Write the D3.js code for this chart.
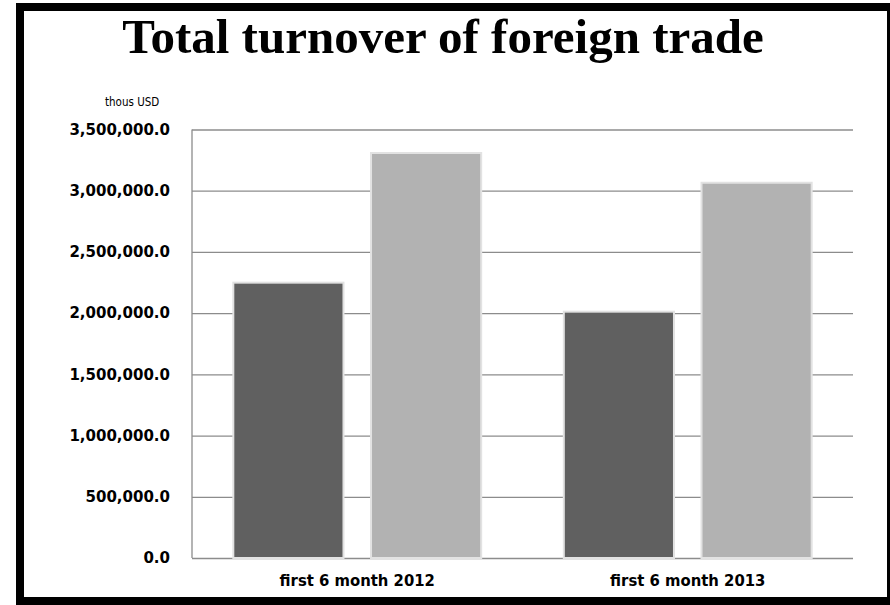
<!DOCTYPE html>
<html>
<head>
<meta charset="utf-8">
<script src="https://cdn.jsdelivr.net/npm/d3@7"></script>
<title>Total turnover of foreign trade</title>
<style>
body {
	margin: 0;
	background: white;
}
.title {
	font-family: "Liberation Serif", "Times New Roman", serif;
	font-weight: bold;
	font-size: 49px;
}
.unit {
	font-family: "DejaVu Sans Condensed", "DejaVu Sans", sans-serif;
	font-size: 11.5px;
	fill: #000;
}
#yaxis text {
	font-family: "DejaVu Sans", sans-serif;
	font-weight: bold;
	font-size: 15px;
	fill: #000;
}
#xaxis text {
	font-family: "DejaVu Sans Condensed", "DejaVu Sans", sans-serif;
	font-weight: bold;
	font-size: 16.5px;
	fill: #000;
}
</style>
</head>
<body>
<div id="chart"></div>
<script>

// -- data

var categories = ["first 6 month 2012", "first 6 month 2013"];
var series = ["s1", "s2"];
var s1Values = [2249000, 2012000];
var s2Values = [3308000, 3065000];
var yTicks = [0, 500000, 1000000, 1500000, 2000000, 2500000, 3000000, 3500000];

var colors = {s1: "#606060", s2: "#b2b2b2"};

// -- layout

var W = 890, H = 605;
var plot = {left: 192, right: 853, top: 129.5, bottom: 558};

var svg = d3.select("#chart")
	.append("svg")
		.attr("width", W)
		.attr("height", H);

// frame
svg.append("rect")
	.attr("x", 16).attr("y", 3)
	.attr("width", W - 16).attr("height", H - 3)
	.attr("fill", "#000");
svg.append("rect")
	.attr("x", 24).attr("y", 11)
	.attr("width", 863).attr("height", 586)
	.attr("fill", "#fff");

// title
svg.append("text")
	.attr("class", "title")
	.attr("x", 443)
	.attr("y", 53)
	.attr("text-anchor", "middle")
	.text("Total turnover of foreign trade");

svg.append("text")
	.attr("class", "unit")
	.attr("x", 105)
	.attr("y", 106)
	.text("thous USD");

// scales
var y = d3.scaleLinear()
	.domain([0, 3500000])
	.range([plot.bottom, plot.top]);

var x0 = d3.scaleBand()
	.domain(categories)
	.range([plot.left, plot.right])
	.paddingInner(0.25)
	.paddingOuter(0.125);

var x1 = d3.scaleBand()
	.domain(series)
	.range([0, x0.bandwidth()])
	.paddingInner(0.2);

// y axis + grid
var yAxis = svg.append("g")
	.attr("id", "yaxis")
	.attr("transform", "translate(" + plot.left + ",0)")
	.call(d3.axisLeft(y)
		.tickValues(yTicks)
		.tickSize(-(plot.right - plot.left))
		.tickPadding(22)
		.tickFormat(d3.format(",.1f")));
yAxis.select(".domain").remove();
yAxis.selectAll(".tick line")
	.attr("stroke", "#8c8c8c")
	.attr("stroke-width", 1.3);

svg.append("line")
	.attr("x1", plot.left).attr("x2", plot.left)
	.attr("y1", plot.top).attr("y2", plot.bottom)
	.attr("stroke", "#8c8c8c")
	.attr("stroke-width", 1.3);

// bars
var data = categories.map(function(c, i) {
	return {cat: c, values: [
		{key: "s1", value: s1Values[i]},
		{key: "s2", value: s2Values[i]}
	]};
});

svg.append("g")
	.selectAll("g")
	.data(data)
	.enter()
	.append("g")
		.attr("transform", d => "translate(" + x0(d.cat) + ",0)")
	.selectAll("rect")
	.data(d => d.values)
	.enter()
	.append("rect")
		.attr("x", d => x1(d.key))
		.attr("y", d => y(d.value))
		.attr("width", x1.bandwidth())
		.attr("height", d => y(0) - y(d.value))
		.attr("fill", d => colors[d.key])
		.attr("stroke", "#e2e2e2")
		.attr("stroke-width", 2);

// x axis labels
var xAxis = svg.append("g")
	.attr("id", "xaxis")
	.attr("transform", "translate(0," + plot.bottom + ")")
	.call(d3.axisBottom(x0).tickSize(0).tickPadding(16));
xAxis.select(".domain").remove();

</script>
</body>
</html>
